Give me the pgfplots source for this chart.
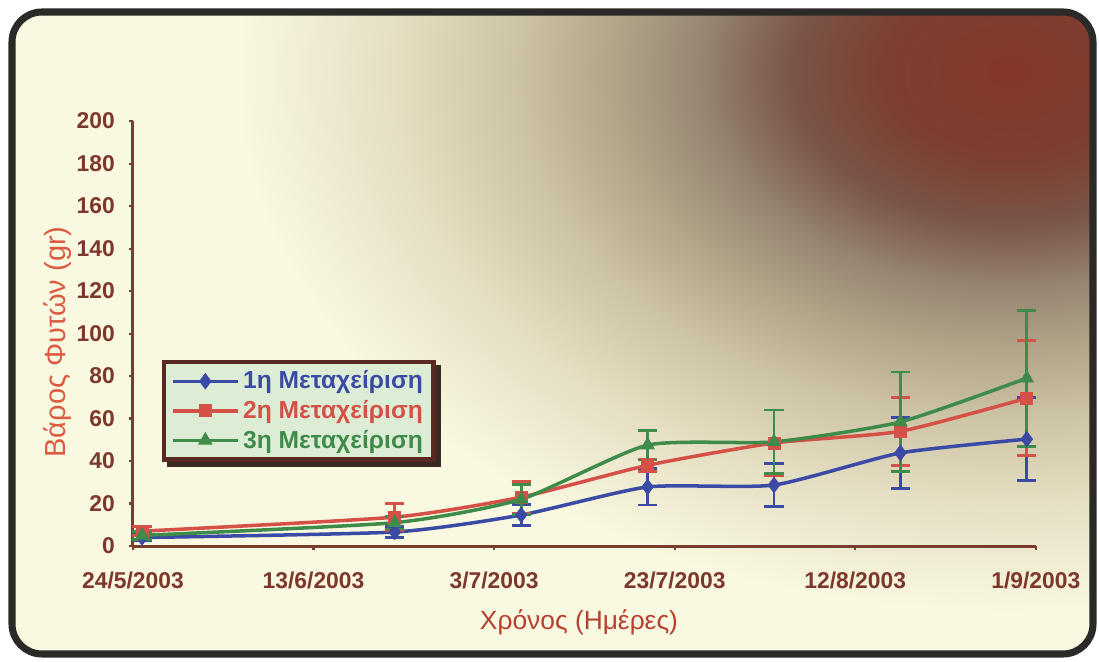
\documentclass[border=0pt]{standalone}
\usepackage{pgfplots}
\usepackage{pgfplotstable}
\pgfplotsset{compat=1.18}
\usepackage{fontspec}
\setmainfont{Liberation Sans}

\definecolor{cblue}{HTML}{3B4BA5}
\definecolor{cred}{HTML}{D55046}
\definecolor{cgreen}{HTML}{3F8B4A}
\definecolor{axisbrown}{HTML}{7A3C2D}
\definecolor{ticklab}{HTML}{7D372D}
\definecolor{ytitle}{HTML}{DC5A40}
\definecolor{xtitle}{HTML}{B8402F}
\definecolor{legfill}{HTML}{DDEDD5}
\definecolor{legborder}{HTML}{5A2A22}
\definecolor{legshadow}{HTML}{3A2A24}
\definecolor{frame}{HTML}{2B2A26}
\definecolor{s0}{HTML}{863729}
\definecolor{s1}{HTML}{7C3F31}
\definecolor{s2}{HTML}{7A5547}
\definecolor{s3}{HTML}{968571}
\definecolor{s4}{HTML}{B3A68A}
\definecolor{s5}{HTML}{CDC3A5}
\definecolor{s6}{HTML}{E5DFC3}
\definecolor{s7}{HTML}{F9F8E0}

\pgfdeclareradialshading{bgshade}{\pgfpointorigin}{color(0bp)=(s0); color(4bp)=(s1); color(7bp)=(s2); color(10bp)=(s3); color(13bp)=(s4); color(16bp)=(s5); color(20bp)=(s6); color(25bp)=(s7); color(50bp)=(s7)}

\pgfdeclarelayer{bgzero}
\pgfdeclarelayer{bgone}
\pgfsetlayers{bgzero,bgone,main}

\pgfplotstableread{
x y e
1 4 1.5
29 6.6 2.6
43 14.6 5
57 27.8 8.5
71 28.7 10
85 43.8 16.8
99 50.3 19.5
}\tblA
\pgfplotstableread{
x y e
1 7 2
29 13.6 6.5
43 23 7.5
57 38 3
71 48.5 15.5
85 54 16
99 69.6 27
}\tblB
\pgfplotstableread{
x y e
1 5 2
29 11 3
43 22 7
57 47.5 7
71 49 15
85 58.4 23.5
99 79 32
}\tblC

\begin{document}
\begin{tikzpicture}[x=0.02cm, y=0.02cm]
\begin{pgfonlayer}{bgzero}
\fill[white] (0,0) rectangle (1099,662);
\begin{scope}
\clip[rounded corners=0.6cm] (12,8) rectangle (1093,650);
\fill[s7] (0,0) rectangle (1099,662);
\shade[shading=bgshade] (1010,590) ellipse (15.5cm and 10.8cm);
\end{scope}
\draw[frame, line width=4pt, rounded corners=0.6cm] (12,8) rectangle (1093,650);
\end{pgfonlayer}

\begin{axis}[
  at={(2.66cm,2.32cm)}, anchor=south west,
  scale only axis, width=18.06cm, height=8.5cm,
  xmin=0, xmax=100, ymin=0, ymax=200,
  axis x line*=bottom, axis y line*=left,
  axis line style={draw=axisbrown, line width=1.7pt, -},
  xtick={0,20,...,100},
  xticklabels={24/5/2003,13/6/2003,3/7/2003,23/7/2003,12/8/2003,1/9/2003},
  ytick={0,20,...,200},
  tick align=outside, major tick length=0.08cm,
  tick style={draw=axisbrown, line width=1.2pt},
  ticklabel style={font=\bfseries\fontsize{13}{15}\selectfont, text=ticklab},
  xticklabel style={yshift=-0.32cm},
  yticklabel style={xshift=-0.16cm},
  /pgf/number format/assume math mode=true,
  clip=false,
  xlabel={Χρόνος (Ημέρες)},
  xlabel style={at={(axis description cs:0.494,-0.179)}, anchor=center, font=\fontsize{15}{18}\selectfont, text=xtitle},
  ylabel={Βάρος Φυτών (gr)},
  ylabel style={at={(axis description cs:-0.083,0.48)}, anchor=center, rotate=0, font=\fontsize{16.5}{19}\selectfont, text=ytitle},
  legend style={name=leg, at={(axis description cs:0.032,0.438)}, anchor=north west,
    fill=legfill, draw=legborder, line width=2.5pt,
    font=\bfseries\fontsize{14}{16}\selectfont, inner xsep=4pt, inner ysep=3pt, row sep=1pt},
  legend cell align=left,
  legend image code/.code={\draw[mark repeat=2, mark phase=2, #1] plot coordinates {(0cm,0cm) (0.65cm,0cm) (1.3cm,0cm)};},
]
\addplot[smooth, tension=0.35, draw=cblue, fill=none, line width=2pt, mark=diamond*, mark size=4.4pt,
  mark options={draw=cblue, fill=cblue, line width=0.4pt},
  error bars/.cd, y dir=both, y explicit,
  error bar style={line width=1.6pt, draw=cblue},
  error mark options={rotate=90, mark size=5.5pt, line width=1.6pt, draw=cblue}]
  table[x=x, y=y, y error=e] {\tblA};
\addlegendentry{\textcolor{cblue}{1η Μεταχείριση}}
\addplot[smooth, tension=0.35, draw=cred, fill=none, line width=2pt, mark=square*, mark size=3.4pt,
  mark options={draw=cred, fill=cred, line width=0.4pt},
  error bars/.cd, y dir=both, y explicit,
  error bar style={line width=1.6pt, draw=cred},
  error mark options={rotate=90, mark size=5.5pt, line width=1.6pt, draw=cred}]
  table[x=x, y=y, y error=e] {\tblB};
\addlegendentry{\textcolor{cred}{2η Μεταχείριση}}
\addplot[smooth, tension=0.35, draw=cgreen, fill=none, line width=2pt, mark=triangle*, mark size=4.4pt,
  mark options={draw=cgreen, fill=cgreen, line width=0.4pt},
  error bars/.cd, y dir=both, y explicit,
  error bar style={line width=1.6pt, draw=cgreen},
  error mark options={rotate=90, mark size=5.5pt, line width=1.6pt, draw=cgreen}]
  table[x=x, y=y, y error=e] {\tblC};
\addlegendentry{\textcolor{cgreen}{3η Μεταχείριση}}
\end{axis}
\begin{pgfonlayer}{bgone}
\fill[legshadow] ([xshift=0.1cm, yshift=-0.1cm]leg.south west) rectangle ([xshift=0.1cm, yshift=-0.1cm]leg.north east);
\end{pgfonlayer}
\end{tikzpicture}
\end{document}
